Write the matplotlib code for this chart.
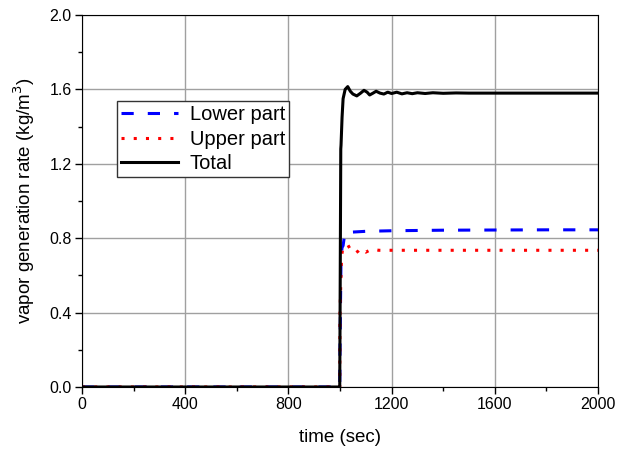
import matplotlib.pyplot as plt
from matplotlib.ticker import MultipleLocator

plt.rcParams['font.family'] = ['Liberation Sans', 'DejaVu Sans']

# total
t_total = [0, 999, 1000, 1003, 1004, 1008, 1012, 1020, 1030, 1040, 1050, 1065, 1080, 1093,
           1105, 1115, 1128, 1140, 1155, 1170, 1185, 1200, 1220, 1240, 1260, 1280, 1300,
           1330, 1360, 1400, 1450, 1500, 1600, 1700, 1800, 1900, 2000]
v_total = [0.0, 0.0, 0.3, 1.28, 1.30, 1.45, 1.55, 1.60, 1.615, 1.59, 1.575, 1.565, 1.58, 1.595,
           1.585, 1.57, 1.58, 1.59, 1.58, 1.575, 1.585, 1.578, 1.585, 1.576, 1.582, 1.577, 1.582,
           1.578, 1.582, 1.579, 1.581, 1.58, 1.58, 1.58, 1.58, 1.58, 1.58]

# lower part
t_lower = [0, 999, 1000, 1004, 1008, 1012, 1016, 1020, 1050, 1100, 1200, 1400, 1600, 1800, 2000]
v_lower = [0.0, 0.0, 0.2, 0.70, 0.75, 0.76, 0.80, 0.83, 0.833, 0.837, 0.84, 0.843, 0.844, 0.845, 0.845]

# upper part
t_upper = [0, 999, 1000, 1003, 1006, 1010, 1015, 1022, 1030, 1040, 1050, 1060, 1070, 1080,
           1090, 1100, 1115, 1130, 1150, 1200, 1300, 1400, 1600, 1800, 2000]
v_upper = [0.0, 0.0, 0.4, 0.55, 0.70, 0.74, 0.745, 0.76, 0.765, 0.74, 0.725, 0.72, 0.73, 0.745,
           0.735, 0.725, 0.735, 0.74, 0.735, 0.735, 0.735, 0.735, 0.735, 0.735, 0.735]

fig = plt.figure(figsize=(6.17, 4.49), dpi=100)
ax = fig.add_axes([0.1329, 0.1381, 0.8363, 0.8285])

ax.plot(t_lower, v_lower, color='blue', linewidth=2.2, linestyle=(0, (4, 4.6)), label='Lower part')
ax.plot(t_upper, v_upper, color='red', linewidth=2.2, linestyle=(0, (1, 3)), label='Upper part')
ax.plot(t_total, v_total, color='black', linewidth=2.2, label='Total')

ax.set_xlim(0, 2000)
ax.set_ylim(0, 2.0)
ax.xaxis.set_major_locator(MultipleLocator(400))
ax.xaxis.set_minor_locator(MultipleLocator(200))
ax.yaxis.set_major_locator(MultipleLocator(0.4))
ax.yaxis.set_minor_locator(MultipleLocator(0.2))
ax.yaxis.set_major_formatter(plt.FormatStrFormatter('%.1f'))
ax.tick_params(which='major', direction='out', length=5, width=1, labelsize=11.5, pad=2.5)
ax.tick_params(which='minor', direction='out', length=3, width=1)
ax.grid(True, which='major', color='#a0a0a0', linewidth=1)
ax.set_axisbelow(True)

ax.set_xlabel('time (sec)', fontsize=13.5, labelpad=12)
ax.set_ylabel('vapor generation rate (kg/m$^3$)', fontsize=13.5, labelpad=9)

leg = ax.legend(loc='upper left', bbox_to_anchor=(0.068, 0.769), borderaxespad=0, fontsize=14.5,
                fancybox=False, framealpha=1, edgecolor='#333333', handlelength=2.8,
                borderpad=0.2, labelspacing=0.28, handletextpad=0.6)
leg.get_frame().set_linewidth(1)

plt.savefig('out.png', dpi=100)
